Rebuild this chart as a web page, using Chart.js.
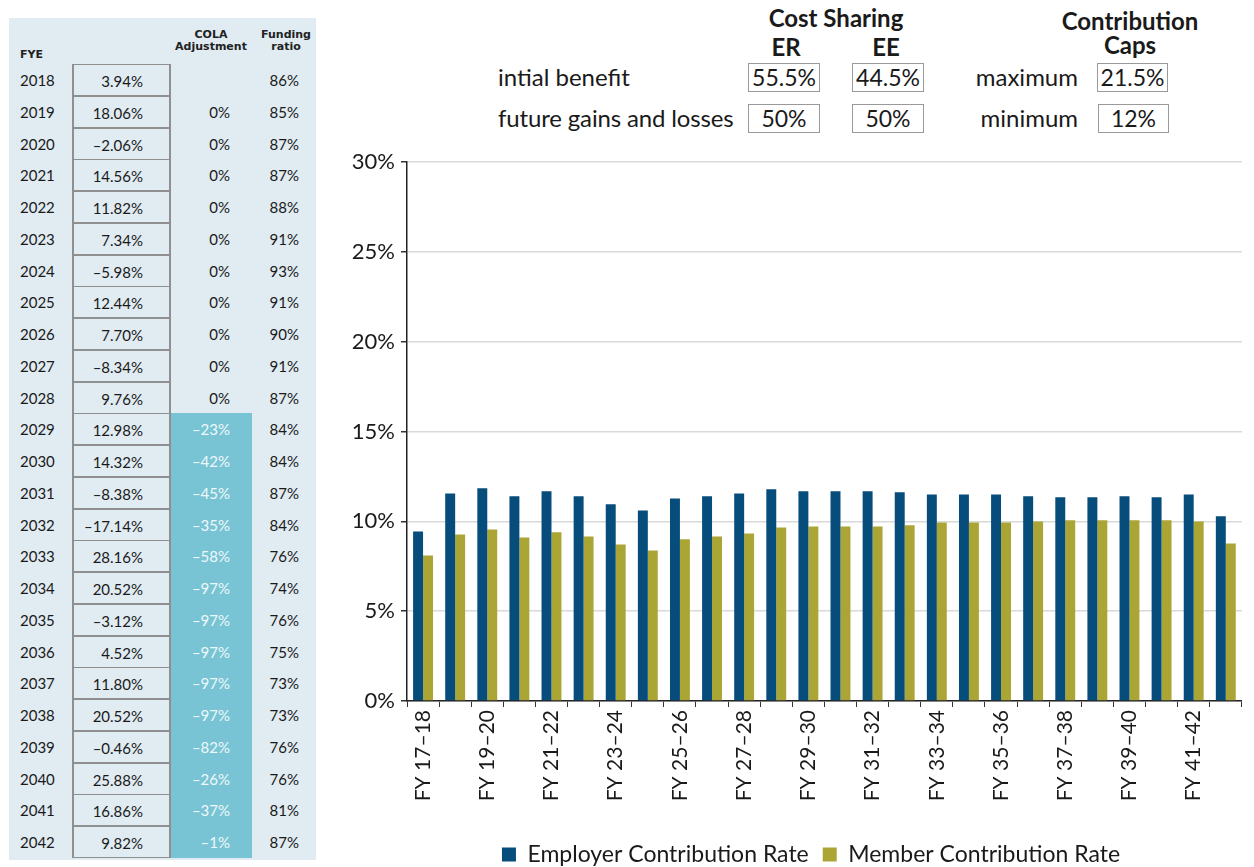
<!DOCTYPE html>
<html>
<head>
<meta charset="utf-8">
<script src="https://cdn.jsdelivr.net/npm/chart.js@4.4.0/dist/chart.umd.min.js"></script>
<style>
  html, body { margin: 0; padding: 0; background: #fff; width: 1254px; height: 867px; overflow: hidden; font-family: Lato, sans-serif; color: #1a1a1a; }
  .abs { position: absolute; white-space: nowrap; }
  #panel { position: absolute; left: 9px; top: 18px; width: 307px; height: 842px; background: #e0ebf2; }
  .hdr { position: absolute; font-family: 'DejaVu Sans', sans-serif; font-weight: bold; font-size: 11px; line-height: 12px; text-align: center; color: #222; }
  .row { position: absolute; left: 0; width: 307px; height: 32px; font-size: 15px; line-height: 32px; }
  .yr { position: absolute; left: 11px; }
  .ret { position: absolute; left: 63px; width: 99px; height: 32px; box-sizing: border-box; border: 2px solid #8f8f8f; border-top-width: 1px; border-bottom-width: 1px; text-align: right; padding-right: 26px; }
  .cola { position: absolute; left: 162px; width: 81px; height: 32px; box-sizing: border-box; text-align: right; padding-right: 22px; }
  .cola.hi { background: #78c4d4; color: #eef8fa; }
  .fund { position: absolute; left: 247px; width: 43px; text-align: right; }
  .big { font-size: 24px; }
  .bold { font-weight: bold; }
  .box { position: absolute; height: 29px; box-sizing: border-box; border: 1.5px solid #9a9a9a; font-size: 23px; line-height: 26px; text-align: center; }
  #chartWrap { position: absolute; left: 330px; top: 143px; width: 924px; height: 733px; }
</style>
</head>
<body>
<div id="panel"></div>

<div class="abs big bold" style="left:736px; top:3px; width:200px; text-align:center;">Cost Sharing</div>
<div class="abs big bold" style="left:746px; top:32px; width:80px; text-align:center;">ER</div>
<div class="abs big bold" style="left:846px; top:32px; width:80px; text-align:center;">EE</div>
<div class="abs big" style="left:498px; top:62px;">intial benefit</div>
<div class="abs big" style="left:498px; top:103px; letter-spacing:-0.15px;">future gains and losses</div>
<div class="box" style="left:748px; top:63px; width:72px;">55.5%</div>
<div class="box" style="left:852px; top:63px; width:72px;">44.5%</div>
<div class="box" style="left:748px; top:104px; width:72px;">50%</div>
<div class="box" style="left:852px; top:104px; width:72px;">50%</div>

<div class="abs big bold" style="left:1030px; top:9px; width:200px; text-align:center; line-height:24px;">Contribution<br>Caps</div>
<div class="abs big" style="left:900px; top:62px; width:178px; text-align:right;">maximum</div>
<div class="abs big" style="left:900px; top:103px; width:178px; text-align:right;">minimum</div>
<div class="box" style="left:1097px; top:63px; width:71px;">21.5%</div>
<div class="box" style="left:1098px; top:104px; width:71px;">12%</div>

<div id="chartWrap"><canvas id="chart"></canvas></div>

<script>
// table on the left
const fyeYears = [2018, 2019, 2020, 2021, 2022, 2023, 2024, 2025, 2026, 2027, 2028, 2029, 2030,
  2031, 2032, 2033, 2034, 2035, 2036, 2037, 2038, 2039, 2040, 2041, 2042];
const returns = ['3.94%', '18.06%', '–2.06%', '14.56%', '11.82%', '7.34%', '–5.98%', '12.44%', '7.70%',
  '–8.34%', '9.76%', '12.98%', '14.32%', '–8.38%', '–17.14%', '28.16%', '20.52%', '–3.12%', '4.52%',
  '11.80%', '20.52%', '–0.46%', '25.88%', '16.86%', '9.82%'];
const colaAdjust = ['', '0%', '0%', '0%', '0%', '0%', '0%', '0%', '0%', '0%', '0%', '–23%', '–42%',
  '–45%', '–35%', '–58%', '–97%', '–97%', '–97%', '–97%', '–97%', '–82%', '–26%', '–37%', '–1%'];
const fundingRatio = ['86%', '85%', '87%', '87%', '88%', '91%', '93%', '91%', '90%', '91%', '87%', '84%',
  '84%', '87%', '84%', '76%', '74%', '76%', '75%', '73%', '73%', '76%', '76%', '81%', '87%'];

// chart data
const categories = ['FY 17–18', 'FY 18–19', 'FY 19–20', 'FY 20–21', 'FY 21–22', 'FY 22–23', 'FY 23–24',
  'FY 24–25', 'FY 25–26', 'FY 26–27', 'FY 27–28', 'FY 28–29', 'FY 29–30', 'FY 30–31', 'FY 31–32',
  'FY 32–33', 'FY 33–34', 'FY 34–35', 'FY 35–36', 'FY 36–37', 'FY 37–38', 'FY 38–39', 'FY 39–40',
  'FY 40–41', 'FY 41–42', 'FY 42–43'];
const employerRate = [9.44, 11.56, 11.84, 11.40, 11.68, 11.40, 10.95, 10.60, 11.28, 11.40, 11.56, 11.79,
  11.68, 11.68, 11.68, 11.62, 11.50, 11.50, 11.50, 11.40, 11.34, 11.34, 11.40, 11.34, 11.50, 10.28];
const memberRate = [8.10, 9.27, 9.55, 9.10, 9.39, 9.16, 8.72, 8.38, 9.00, 9.16, 9.33, 9.66,
  9.72, 9.72, 9.72, 9.78, 9.94, 9.94, 9.94, 10.00, 10.06, 10.06, 10.06, 10.06, 10.00, 8.77];

(function buildTable() {
  const panel = document.getElementById('panel');
  panel.innerHTML =
    '<div class="hdr" style="left:11px; top:31px;">FYE</div>' +
    '<div class="hdr" style="left:157px; top:11px; width:90px;">COLA<br>Adjustment</div>' +
    '<div class="hdr" style="left:247px; top:11px; width:60px;">Funding<br>ratio</div>';
  const rowH = 31.75;
  fyeYears.forEach((yr, i) => {
    const row = document.createElement('div');
    row.className = 'row';
    row.style.top = (46 + i * rowH) + 'px';
    const hi = i >= 11 ? ' hi' : '';
    row.innerHTML =
      '<span class="yr">' + yr + '</span>' +
      '<div class="ret">' + returns[i] + '</div>' +
      '<div class="cola' + hi + '">' + colaAdjust[i] + '</div>' +
      '<div class="fund">' + fundingRatio[i] + '</div>';
    panel.appendChild(row);
  });
})();

const fontFamily = 'Lato, sans-serif';

// nudge the legend to the right so it sits under the plot like the original
const legendShift = {
  id: 'legendShift',
  afterLayout(chart) {
    chart.legend.left += 19;
    chart.legend.right += 19;
  },
};

new Chart(document.getElementById('chart'), {
  type: 'bar',
  data: {
    labels: categories,
    datasets: [
      {
        label: 'Employer Contribution Rate',
        data: employerRate,
        backgroundColor: '#064d7b',
        categoryPercentage: 0.62,
        barPercentage: 1.0,
      },
      {
        label: 'Member Contribution Rate',
        data: memberRate,
        backgroundColor: '#aba535',
        categoryPercentage: 0.62,
        barPercentage: 1.0,
      },
    ],
  },
  plugins: [legendShift],
  options: {
    responsive: true,
    maintainAspectRatio: false,
    animation: false,
    layout: { padding: { top: 12, right: 0, left: 0, bottom: 0 } },
    plugins: {
      tooltip: { enabled: false },
      legend: {
        position: 'bottom',
        labels: {
          font: { family: fontFamily, size: 23 },
          color: '#1a1a1a',
          boxWidth: 14,
          boxHeight: 14,
          padding: 14,
        },
      },
    },
    scales: {
      x: {
        grid: { drawOnChartArea: false, drawTicks: true, tickLength: 6, tickColor: '#333' },
        border: { display: true, color: '#222', width: 1.5 },
        ticks: {
          minRotation: 90,
          maxRotation: 90,
          autoSkip: false,
          font: { family: fontFamily, size: 21 },
          color: '#1a1a1a',
          callback: (v, i) => (i % 2 === 0 ? categories[i] : ''),
        },
        afterFit: (scale) => { scale.height = 128; },
      },
      y: {
        min: 0,
        max: 30,
        ticks: {
          stepSize: 5,
          font: { family: fontFamily, size: 22 },
          color: '#1a1a1a',
          padding: 6,
          callback: (v) => v + '%',
        },
        grid: { color: '#d9d9d9', lineWidth: 1.5, tickLength: 6, tickColor: '#333' },
        border: { display: true, color: '#222', width: 1.5 },
        afterFit: (scale) => { scale.width = 77; },
      },
    },
  },
});
</script>
</body>
</html>
